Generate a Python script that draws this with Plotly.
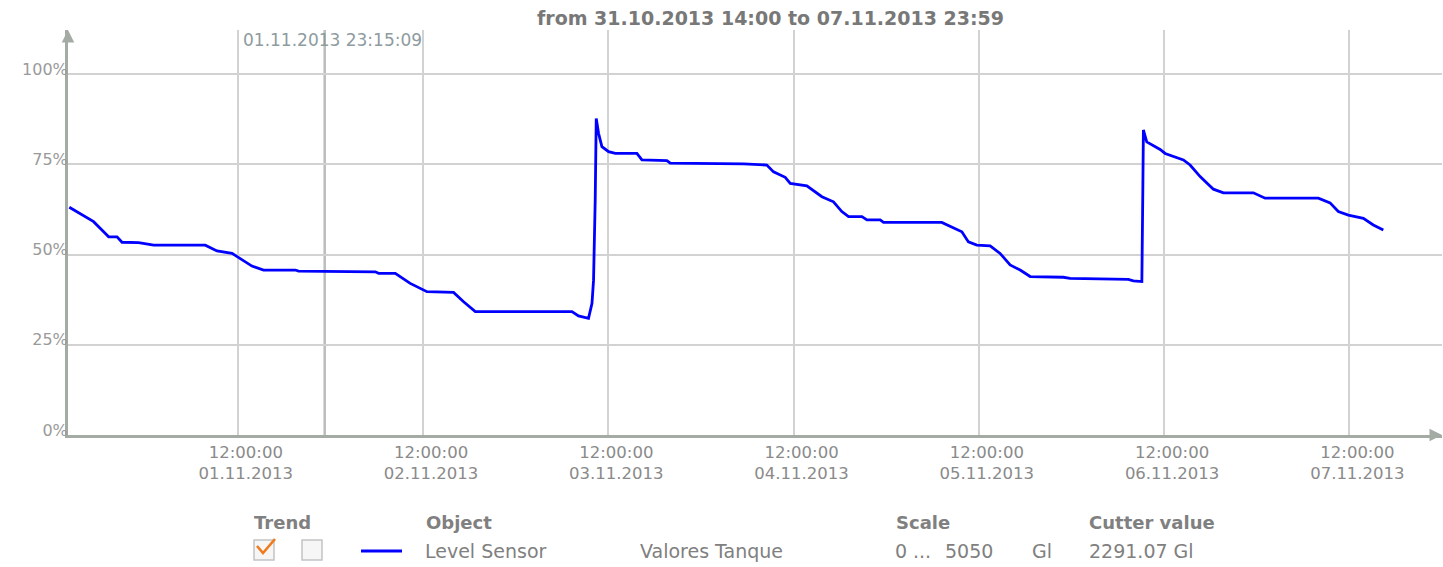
import plotly.graph_objects as go

# ---- data ----
times = [
    "2013-10-31 14:10", "2013-10-31 14:55", "2013-10-31 17:19", "2013-10-31 18:37",
    "2013-10-31 19:16", "2013-10-31 20:21", "2013-10-31 21:00", "2013-10-31 23:09",
    "2013-11-01 01:06", "2013-11-01 07:47", "2013-11-01 09:18", "2013-11-01 11:15",
    "2013-11-01 12:33", "2013-11-01 13:50", "2013-11-01 15:20", "2013-11-01 19:27",
    "2013-11-01 19:52", "2013-11-02 05:49", "2013-11-02 06:14", "2013-11-02 08:24",
    "2013-11-02 10:20", "2013-11-02 12:30", "2013-11-02 15:57", "2013-11-02 17:15",
    "2013-11-02 18:46", "2013-11-03 07:17", "2013-11-03 08:08", "2013-11-03 09:26",
    "2013-11-03 09:53", "2013-11-03 10:05", "2013-11-03 10:18", "2013-11-03 10:26",
    "2013-11-03 10:44", "2013-11-03 11:10", "2013-11-03 12:02", "2013-11-03 12:54",
    "2013-11-03 15:42", "2013-11-03 16:21", "2013-11-03 19:35", "2013-11-03 20:01",
    "2013-11-04 05:31", "2013-11-04 08:32", "2013-11-04 09:24", "2013-11-04 10:55",
    "2013-11-04 11:34", "2013-11-04 13:43", "2013-11-04 15:40", "2013-11-04 17:10",
    "2013-11-04 18:15", "2013-11-04 19:07", "2013-11-04 20:51", "2013-11-04 21:30",
    "2013-11-04 23:13", "2013-11-04 23:39", "2013-11-05 07:12", "2013-11-05 08:42",
    "2013-11-05 09:48", "2013-11-05 10:39", "2013-11-05 11:44", "2013-11-05 13:28",
    "2013-11-05 14:45", "2013-11-05 16:03", "2013-11-05 17:21", "2013-11-05 18:39",
    "2013-11-05 22:57", "2013-11-05 23:49", "2013-11-06 07:22", "2013-11-06 08:01",
    "2013-11-06 09:07", "2013-11-06 09:14", "2013-11-06 09:19", "2013-11-06 09:45",
    "2013-11-06 11:29", "2013-11-06 12:08", "2013-11-06 14:30", "2013-11-06 15:22",
    "2013-11-06 16:40", "2013-11-06 18:23", "2013-11-06 19:41", "2013-11-06 23:34",
    "2013-11-07 01:05", "2013-11-07 07:59", "2013-11-07 09:30", "2013-11-07 10:34",
    "2013-11-07 11:52", "2013-11-07 13:49", "2013-11-07 15:06", "2013-11-07 16:24",
]
level_pct = [
    63.1, 62.1, 59.1, 56.3, 54.9, 54.9, 53.4, 53.3,
    52.6, 52.6, 51.0, 50.3, 48.5, 46.8, 45.7, 45.7,
    45.4, 45.2, 44.8, 44.8, 42.0, 39.7, 39.5, 36.9,
    34.2, 34.2, 33.0, 32.3, 36.5, 42.9, 65.1, 87.7,
    83.6, 79.9, 78.5, 78.0, 78.0, 76.2, 76.0, 75.3,
    75.1, 74.8, 72.9, 71.4, 69.7, 69.0, 66.0, 64.6,
    61.9, 60.5, 60.5, 59.6, 59.6, 58.9, 58.9, 57.5,
    56.3, 53.5, 52.6, 52.4, 50.3, 47.1, 45.7, 43.9,
    43.7, 43.4, 43.1, 42.7, 42.5, 66.0, 84.5, 81.2,
    79.1, 78.0, 76.2, 74.8, 71.6, 68.1, 67.1, 67.1,
    65.6, 65.6, 64.3, 61.9, 60.9, 60.0, 58.2, 56.8,
]
x_tick_vals = ["2013-11-0%d 12:00" % d for d in range(1, 8)]
y_tick_vals = [0, 25, 50, 75, 100]
y_tick_text = ["0%", "25%", "50%", "75%", "100%"]
x_range = ["2013-10-31 14:00", "2013-11-08 00:00"]
y_range = [0, 112.2]
cursor_time = "2013-11-01 23:15:09"
cursor_label = "01.11.2013 23:15:09"
title_text = "from 31.10.2013 14:00 to 07.11.2013 23:59"
series_name = "Level Sensor"
group_name = "Valores Tanque"
scale_min, scale_max, unit = "0", "5050", "Gl"
cutter_value = "2291.07 Gl"

# ---- layout geometry ----
W, H = 1443, 567
ML, MR, MT, MB = 68, 1, 30, 132
PW, PH = W - ML - MR, H - MT - MB
FONT = "DejaVu Sans"
GREY_TXT = "#8a8a8a"
AXIS_C = "#a4aaa4"
GRID_C = "#d2d2d2"


def px(x):
    return (x - ML) / PW


def py(y):
    return (MT + PH - y) / PH


fig = go.Figure()
fig.add_trace(go.Scatter(
    x=times, y=level_pct, mode="lines",
    line=dict(color="#0000ff", width=2.8),
    name=series_name, showlegend=False, hoverinfo="x+y",
))

annotations = []
# title
annotations.append(dict(x=px(770), y=py(18), xref="paper", yref="paper",
                        text="<b>%s</b>" % title_text, showarrow=False,
                        font=dict(family=FONT, size=19, color="#787878"),
                        xanchor="center", yanchor="middle"))
# cursor label
annotations.append(dict(x=px(332), y=py(40), xref="paper", yref="paper",
                        text=cursor_label, showarrow=False,
                        font=dict(family=FONT, size=17, color="#8e9ba0"),
                        xanchor="center", yanchor="middle"))
# axis arrows
annotations.append(dict(x=1, y=0, xref="paper", yref="paper", text="", showarrow=True,
                        ax=-12, ay=0, arrowhead=2, arrowsize=1, arrowwidth=2.5,
                        arrowcolor=AXIS_C, standoff=0))
annotations.append(dict(x=0, y=1, xref="paper", yref="paper", text="", showarrow=True,
                        ax=0, ay=12, arrowhead=2, arrowsize=1, arrowwidth=2.5,
                        arrowcolor=AXIS_C, standoff=0))

# legend table
hdr_y, row_y = 522, 551


def lab(x, y, t, bold=False, size=19, color="#808080"):
    annotations.append(dict(x=px(x), y=py(y), xref="paper", yref="paper",
                            text=("<b>%s</b>" % t) if bold else t, showarrow=False,
                            font=dict(family=FONT, size=size, color=color),
                            xanchor="left", yanchor="middle"))


lab(252, hdr_y, "Trend", bold=True, size=18)
lab(424, hdr_y, "Object", bold=True, size=18)
lab(894, hdr_y, "Scale", bold=True, size=18)
lab(1087, hdr_y, "Cutter value", bold=True, size=18)
lab(423, row_y, series_name)
lab(638, row_y, group_name)
lab(893, row_y, scale_min)
lab(911, row_y, "...")
lab(943, row_y, scale_max)
lab(1030, row_y, unit)
lab(1087, row_y, cutter_value)

shapes = []
# cursor line
shapes.append(dict(type="line", xref="x", yref="paper", x0=cursor_time, x1=cursor_time,
                   y0=0, y1=1, line=dict(color="#b9beb9", width=2.5), layer="below"))
# checkboxes
for x0 in (254, 302):
    shapes.append(dict(type="rect", xref="paper", yref="paper",
                       x0=px(x0), x1=px(x0 + 20), y0=py(560), y1=py(540),
                       line=dict(color="#c4c4c4", width=1.5), fillcolor="#f6f6f6"))
# check mark
shapes.append(dict(type="path", xref="paper", yref="paper",
                   path="M %f %f L %f %f L %f %f" % (px(257), py(546), px(263), py(553), px(275), py(539)),
                   line=dict(color="#f07a1e", width=2.6)))
# legend line sample
shapes.append(dict(type="line", xref="paper", yref="paper", x0=px(361), x1=px(402),
                   y0=py(551), y1=py(551), line=dict(color="#0000ff", width=3)))

fig.update_layout(
    width=W, height=H,
    margin=dict(l=ML, r=MR, t=MT, b=MB, pad=0),
    paper_bgcolor="white", plot_bgcolor="white",
    showlegend=False,
    annotations=annotations, shapes=shapes,
    font=dict(family=FONT, color=GREY_TXT),
    xaxis=dict(
        type="date", range=x_range, tickmode="array", tickvals=x_tick_vals,
        tickformat="%H:%M:%S<br>%d.%m.%Y",
        tickfont=dict(family=FONT, size=16.5, color=GREY_TXT),
        showgrid=True, gridcolor=GRID_C, gridwidth=1.5,
        showline=True, linecolor=AXIS_C, linewidth=3,
        zeroline=False, ticks="", ticklabelshift=8, fixedrange=True,
    ),
    yaxis=dict(
        range=y_range, tickmode="array", tickvals=y_tick_vals, ticktext=y_tick_text,
        tickfont=dict(family=FONT, size=16, color="#9a9a9a"),
        showgrid=True, gridcolor=GRID_C, gridwidth=1.5,
        showline=True, linecolor=AXIS_C, linewidth=3,
        zeroline=False, ticks="", ticklabelshift=-5, ticklabelstandoff=-6,
        fixedrange=True,
    ),
)

fig.write_html("out.html", config={"displayModeBar": False},
               post_script="document.body.style.margin='0px';")
